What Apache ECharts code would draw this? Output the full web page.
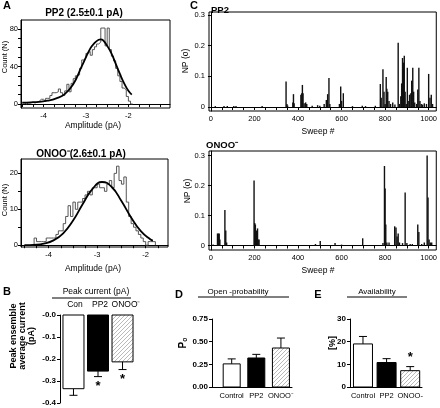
<!DOCTYPE html>
<html><head><meta charset="utf-8">
<script src="https://cdn.jsdelivr.net/npm/echarts@6/dist/echarts.min.js"></script>
<style>html,body{margin:0;padding:0;background:#fff}#c{width:440px;height:408px}</style>
</head><body><div id="c"></div>
<script>
// ---------- Panel A: amplitude histograms ----------
const ppHistStart = -4.5;
const ppHistBin = 0.05;
const ppHistCounts = [1,0,1,1,2,1,2,3,5,5,3,6,6,9,12,12,13,16,12,9,14,21,13,22,27,30,31,38,47,49,54,56,52,58,61,64,66,81,81,62,81,58,51,46,38,30,24,17,15,8,3,0];
const ppFitX = [-4.5,-4.3,-4.1,-3.9,-3.7,-3.5,-3.3,-3.1,-2.9,-2.8,-2.7,-2.65,-2.6,-2.5,-2.4,-2.3,-2.2,-2.1,-2.0,-1.92];
const ppFitY = [1.5,1.8,2.3,3.5,6,10.5,21,40,59,65,68.5,69,68,62,54,43,32,22,14,10];

const onHistStart = -4.35;
const onHistBin = 0.05;
const onHistCounts = [0,2,1,1,1,1,2,2,2,2,3,4,4,6,8,11,8,12,10,12,12,13,14,15,14,16,16,17,16,16,15,17,18,16,20,22,18,17,19,12,8,6,5,4,3,2,1,0,1,1,1];
const onFitX = [-4.5,-4.3,-4.1,-3.9,-3.7,-3.5,-3.3,-3.1,-2.9,-2.7,-2.5,-2.3,-2.1,-1.9,-1.85];
const onFitY = [0.03,0.12,0.45,1.35,3.3,6.8,11.4,15.6,17.6,16.2,12.3,7.7,3.9,1.6,1.3];

// ---------- Panel C: NP(o) per sweep (sweep #, value) ----------
const ppSweeps = [[20,0.003],[60,0.003],[75,0.003],[105,0.003],[115,0.003],[235,0.003],[345,0.083],[349,0.01],[352,0.005],[376,0.015],[379,0.042],[382,0.012],[413,0.04],[417,0.045],[420,0.072],[423,0.045],[428,0.012],[435,0.015],[440,0.01],[465,0.004],[490,0.006],[500,0.004],[520,0.01],[530,0.023],[536,0.042],[542,0.095],[546,0.01],[590,0.01],[596,0.067],[600,0.02],[608,0.045],[650,0.003],[695,0.004],[710,0.003],[755,0.004],[778,0.075],[782,0.03],[790,0.123],[795,0.05],[800,0.01],[805,0.098],[808,0.06],[812,0.05],[818,0.02],[825,0.01],[835,0.015],[845,0.008],[860,0.21],[866,0.01],[872,0.035],[876,0.077],[880,0.16],[884,0.145],[888,0.167],[892,0.05],[897,0.01],[902,0.128],[906,0.02],[912,0.04],[918,0.045],[922,0.086],[927,0.128],[931,0.05],[936,0.015],[945,0.01],[950,0.057],[955,0.128],[960,0.02],[966,0.01],[972,0.008],[980,0.012],[990,0.01],[1000,0.108],[1006,0.03],[1012,0.04],[1018,0.01]];
const onSweeps = [[10,0.003],[30,0.04],[34,0.04],[38,0.04],[41,0.02],[64,0.118],[68,0.05],[72,0.01],[198,0.217],[201,0.075],[204,0.07],[207,0.035],[210,0.05],[214,0.057],[217,0.02],[221,0.02],[480,0.005],[502,0.015],[570,0.008],[600,0.003],[697,0.024],[790,0.008],[797,0.265],[800,0.19],[803,0.07],[808,0.01],[818,0.01],[844,0.064],[850,0.06],[855,0.03],[860,0.04],[866,0.01],[880,0.008],[892,0.177],[900,0.008],[915,0.005],[925,0.005],[950,0.07],[955,0.045],[968,0.005],[980,0.01],[993,0.3],[997,0.16],[1002,0.02],[1008,0.01],[1014,0.01]];

// ---------- Panels B, D, E ----------
const groupsB = ['Con','PP2','ONOO\u207B'];
const peakMean = [-0.335,-0.255,-0.213];
const peakErr = [0.03,0.025,0.035];
const peakSig = [false,true,true];

const groupsD = ['Control','PP2','ONOO\u207B'];
const poMean = [0.255,0.32,0.43];
const poErr = [0.055,0.04,0.11];

const groupsE = ['Control','PP2','ONOO-'];
const availMean = [19,10.8,7.2];
const availErr = [3.3,1.7,1.8];
const availSig = [false,false,true];

// ---------------------------------------------
const FONT = '"Liberation Sans", Arial, sans-serif';
function hatch(){
  const c = document.createElement('canvas'); c.width = 4; c.height = 4;
  const g = c.getContext('2d'); g.fillStyle = '#fff'; g.fillRect(0,0,4,4);
  g.strokeStyle = '#a8a8a8'; g.lineWidth = 0.8;
  g.beginPath(); g.moveTo(0,4); g.lineTo(4,0); g.moveTo(-1,1); g.lineTo(1,-1); g.moveTo(3,5); g.lineTo(5,3); g.stroke();
  return c;
}
const fills = ['#fff','#000',{image: hatch(), repeat:'repeat'}];

function histData(start, bin, counts){
  const d = [];
  counts.forEach((c,i)=>d.push([start + i*bin, c]));
  d.push([start + counts.length*bin, counts[counts.length-1]]);
  d.push([start + counts.length*bin, 0]);
  return d;
}
function zip(a,b){return a.map((v,i)=>[v,b[i]]);}

function spikeRender(params, api){
  const p0 = api.coord([api.value(0), 0]);
  const p1 = api.coord([api.value(0), api.value(1)]);
  return {type:'line', shape:{x1:p0[0],y1:p0[1],x2:p1[0],y2:p1[1]}, style:{stroke:'#111', lineWidth:1.4}};
}
function barRender(width){
  return function(params, api){
    const i = api.value(0), v = api.value(1);
    const p0 = api.coord([i, 0]); const p1 = api.coord([i, v]);
    const top = Math.min(p0[1],p1[1]), h = Math.abs(p1[1]-p0[1]);
    return {type:'rect', shape:{x:p0[0]-width/2, y:top, width:width, height:h},
      style:{fill: fills[params.dataIndex], stroke:'#000', lineWidth:1}};
  };
}
function errRender(params, api){
  const i = api.value(0), v = api.value(1), e = api.value(2);
  const p0 = api.coord([i, v]); const p1 = api.coord([i, e]);
  return {type:'group', children:[
    {type:'line', shape:{x1:p0[0],y1:p0[1],x2:p1[0],y2:p1[1]}, style:{stroke:'#000',lineWidth:1}},
    {type:'line', shape:{x1:p1[0]-4,y1:p1[1],x2:p1[0]+4,y2:p1[1]}, style:{stroke:'#000',lineWidth:1}}
  ]};
}
function starRender(params, api){
  const p = api.coord([api.value(0), api.value(1)]);
  return {type:'text', x:p[0], y:p[1], style:{text:'*', fontSize:13, fontWeight:'bold', fontFamily:FONT, fill:'#000', align:'center', verticalAlign:'middle'}};
}

const axLine = {show:true, lineStyle:{color:'#000', width:1}};
const tick = {show:true, length:3, lineStyle:{color:'#000'}};
const lab = {color:'#000', fontSize:7.5, fontFamily:FONT, formatter:v=>String(v)};
const labB = {color:'#000', fontSize:8, fontFamily:FONT, fontWeight:'bold'};

const grids = [
  {left:21, top:20, width:149, height:88, show:true, borderColor:'#000', borderWidth:1},   // A top
  {left:21, top:159, width:147, height:88, show:true, borderColor:'#000', borderWidth:1},  // A bottom
  {left:209, top:12, width:232, height:99, show:true, borderColor:'#000', borderWidth:1},  // C top
  {left:209, top:151, width:232, height:99, show:true, borderColor:'#000', borderWidth:1}, // C bottom
  {left:60, top:315, width:76, height:88},  // B
  {left:212, top:319, width:80, height:68}, // D
  {left:350, top:319, width:72, height:68}  // E
];

function range(a,b,s){const r=[];for(let v=a;v<=b+1e-9;v+=s)r.push(+v.toFixed(4));return r;}

const xAxes = [
  {gridIndex:0, type:'value', min:-4.53, max:-1.02, axisLine:axLine, splitLine:{show:false},
   axisTick:Object.assign({customValues:range(-4.5,-1.25,0.25)},tick), axisLabel:Object.assign({customValues:[-4,-3,-2], margin:4},lab)},
  {gridIndex:1, type:'value', min:-4.57, max:-1.54, axisLine:axLine, splitLine:{show:false},
   axisTick:Object.assign({customValues:range(-4.5,-1.75,0.25)},tick), axisLabel:Object.assign({customValues:[-4,-3,-2], margin:4},lab)},
  {gridIndex:2, type:'value', min:-9, max:1035, axisLine:axLine, splitLine:{show:false},
   axisTick:Object.assign({customValues:range(0,1000,50)},tick), axisLabel:Object.assign({customValues:range(0,1000,200), margin:4},lab)},
  {gridIndex:3, type:'value', min:-9, max:1035, axisLine:axLine, splitLine:{show:false},
   axisTick:Object.assign({customValues:range(0,1000,50)},tick), axisLabel:Object.assign({customValues:range(0,1000,200), margin:4},lab)},
  {gridIndex:4, type:'value', min:0.45, max:3.55, axisLine:{show:false}, splitLine:{show:false}, axisTick:{show:false}, axisLabel:{show:false}},
  {gridIndex:5, type:'value', min:0.2, max:3.45, axisLine:axLine, splitLine:{show:false}, axisTick:{show:false},
   axisLabel:Object.assign({}, lab, {customValues:[1,2,3], formatter:v=>groupsD[Math.round(v)-1], margin:5})},
  {gridIndex:6, type:'value', min:0.45, max:3.5, axisLine:axLine, splitLine:{show:false}, axisTick:{show:false},
   axisLabel:Object.assign({}, lab, {customValues:[1,2,3], formatter:v=>groupsE[Math.round(v)-1], margin:5})}
];
const yAxes = [
  {gridIndex:0, type:'value', min:-4.3, max:89.6, axisLine:axLine, splitLine:{show:false},
   axisTick:Object.assign({customValues:range(0,80,10)},tick), axisLabel:Object.assign({customValues:[0,40,80], margin:3},lab)},
  {gridIndex:1, type:'value', min:-0.5, max:24, axisLine:axLine, splitLine:{show:false},
   axisTick:Object.assign({customValues:range(0,20,5)},tick), axisLabel:Object.assign({customValues:[0,10,20], margin:3},lab)},
  {gridIndex:2, type:'value', min:-0.013, max:0.31, axisLine:axLine, splitLine:{show:false},
   axisTick:Object.assign({customValues:[0,0.1,0.2,0.3]},tick), axisLabel:Object.assign({customValues:[0,0.1,0.2,0.3], margin:4},lab)},
  {gridIndex:3, type:'value', min:-0.015, max:0.315, axisLine:axLine, splitLine:{show:false},
   axisTick:Object.assign({customValues:[0,0.1,0.2,0.3]},tick), axisLabel:Object.assign({customValues:[0,0.1,0.2,0.3], margin:4},lab)},
  {gridIndex:4, type:'value', min:-0.4, max:0, axisLine:axLine, splitLine:{show:false},
   axisTick:Object.assign({customValues:[-0.4,-0.3,-0.2,-0.1,0]},tick), axisLabel:Object.assign({customValues:[-0.4,-0.3,-0.2,-0.1,0], formatter:v=>(v===0?'-0.0':v.toFixed(1)), margin:4},labB)},
  {gridIndex:5, type:'value', min:0, max:0.75, axisLine:axLine, splitLine:{show:false},
   axisTick:Object.assign({customValues:[0,0.25,0.5,0.75]},tick), axisLabel:Object.assign({customValues:[0,0.25,0.5,0.75], formatter:v=>v.toFixed(2), margin:4},labB)},
  {gridIndex:6, type:'value', min:0, max:30, axisLine:axLine, splitLine:{show:false},
   axisTick:Object.assign({customValues:[0,10,20,30]},tick), axisLabel:Object.assign({customValues:[0,10,20,30], margin:4},labB)}
];

const idx = [1,2,3];
const series = [
  {type:'line', xAxisIndex:0, yAxisIndex:0, step:'end', symbol:'none', data:histData(ppHistStart,ppHistBin,ppHistCounts), lineStyle:{color:'#444', width:0.9}, z:2},
  {type:'line', xAxisIndex:0, yAxisIndex:0, smooth:true, symbol:'none', data:zip(ppFitX,ppFitY), lineStyle:{color:'#000', width:1.8}, z:3},
  {type:'line', xAxisIndex:1, yAxisIndex:1, step:'end', symbol:'none', data:histData(onHistStart,onHistBin,onHistCounts), lineStyle:{color:'#444', width:0.9}, z:2},
  {type:'line', xAxisIndex:1, yAxisIndex:1, smooth:true, symbol:'none', data:zip(onFitX,onFitY), lineStyle:{color:'#000', width:1.8}, z:3},
  {type:'custom', xAxisIndex:2, yAxisIndex:2, renderItem:spikeRender, data:ppSweeps, clip:true},
  {type:'custom', xAxisIndex:3, yAxisIndex:3, renderItem:spikeRender, data:onSweeps, clip:true},
  {type:'custom', xAxisIndex:4, yAxisIndex:4, renderItem:errRender, data:idx.map((c,i)=>[c,peakMean[i],peakMean[i]-peakErr[i]])},
  {type:'custom', xAxisIndex:4, yAxisIndex:4, renderItem:barRender(21), data:idx.map((c,i)=>[c,peakMean[i]])},
  {type:'custom', xAxisIndex:4, yAxisIndex:4, renderItem:starRender, data:idx.filter((c,i)=>peakSig[i]).map(c=>[c, peakMean[c-1]-peakErr[c-1]-0.045])},
  {type:'custom', xAxisIndex:5, yAxisIndex:5, renderItem:errRender, data:idx.map((c,i)=>[c,poMean[i],poMean[i]+poErr[i]])},
  {type:'custom', xAxisIndex:5, yAxisIndex:5, renderItem:barRender(17), data:idx.map((c,i)=>[c,poMean[i]])},
  {type:'custom', xAxisIndex:6, yAxisIndex:6, renderItem:errRender, data:idx.map((c,i)=>[c,availMean[i],availMean[i]+availErr[i]])},
  {type:'custom', xAxisIndex:6, yAxisIndex:6, renderItem:barRender(19), data:idx.map((c,i)=>[c,availMean[i]])},
  {type:'custom', xAxisIndex:6, yAxisIndex:6, renderItem:starRender, data:idx.filter((c,i)=>availSig[i]).map(c=>[c, availMean[c-1]+availErr[c-1]+4])}
];

function T(text, x, y, size, bold, extra){
  return Object.assign({type:'text', x:x, y:y, style:{text:text, fontSize:size, fontWeight:bold?'bold':'normal', fontFamily:FONT, fill:'#000', align:'center', verticalAlign:'middle'}}, extra||{});
}
function R(text, x, y, size, bold){
  return T(text, x, y, size, bold, {rotation:Math.PI/2});
}
function L(x1,x2,y){return {type:'line', shape:{x1:x1,y1:y,x2:x2,y2:y}, style:{stroke:'#000', lineWidth:1}};}

const graphics = [
  T('A', 7, 6, 11, true),
  T('PP2 (2.5\u00B10.1 pA)', 84, 13, 10, true),
  R('Count (N)', 5, 57, 7.5, false),
  T('Amplitude (pA)', 93, 126, 8.5, false),
  T('ONOO\u207B(2.6\u00B10.1 pA)', 81, 154, 10, true),
  R('Count (N)', 5, 200, 7.5, false),
  T('Amplitude (pA)', 93, 269, 8.5, false),
  T('C', 194, 6, 11, true),
  T('PP2', 220, 10, 9.5, true),
  R('NP (o)', 186, 61, 8.5, false),
  T('Sweep #', 318, 132, 8.5, false),
  T('ONOO\u207B', 222, 145, 9.5, true),
  R('NP (o)', 188, 191, 8.5, false),
  T('Sweep #', 318, 271, 8.5, false),
  T('B', 7, 292, 11, true),
  T('Peak current (pA)', 96, 292, 8.5, false),
  L(52, 131, 298),
  T(groupsB[0], 75, 305, 8.5, false), T(groupsB[1], 100, 305, 8.5, false), T(groupsB[2], 126, 305, 8.5, false),
  R('Peak ensemble\naverage current\n(pA)', 23, 336, 9, true),
  T('D', 179, 295, 11, true),
  T('Open -probability', 238, 292, 8, false),
  L(198, 289, 297),
  R('P\u2092', 183, 343, 10, true),
  T('E', 318, 295, 11, true),
  T('Availability', 377, 292, 8, false),
  L(347, 407, 297),
  R('[%]', 333, 343, 9, true)
];

const chart = echarts.init(document.getElementById('c'), null, {renderer:'canvas'});
chart.setOption({
  animation:false,
  backgroundColor:'#fff',
  grid:grids, xAxis:xAxes, yAxis:yAxes, series:series, graphic:graphics
});
</script>
</body></html>
